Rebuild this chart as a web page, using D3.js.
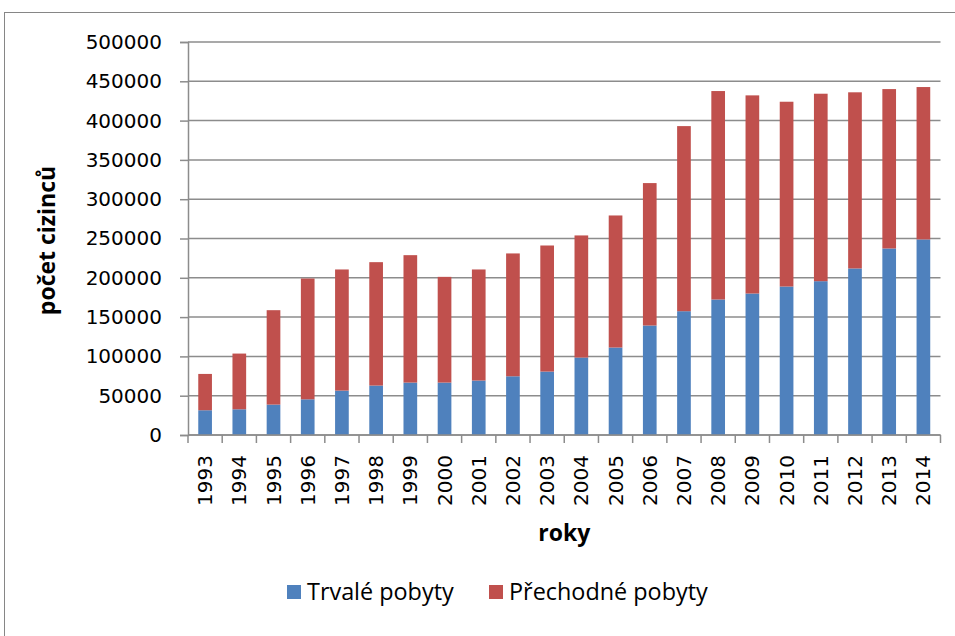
<!DOCTYPE html>
<html><head><meta charset="utf-8">
<script src="https://cdn.jsdelivr.net/npm/d3@7"></script>
<style>html,body{margin:0;padding:0;background:#fff;}</style>
</head><body>
<svg id="chart" width="955" height="636"></svg>
<script>
const years = ["1993","1994","1995","1996","1997","1998","1999","2000","2001","2002","2003","2004","2005","2006","2007","2008","2009","2010","2011","2012","2013","2014"];
const trvale = [31500,32700,38700,45400,56500,62900,66700,66700,69300,74700,80700,98500,111300,139300,157500,172400,180000,188900,195700,211900,237300,248800];
const celkem = [77700,103600,158800,199100,210600,219900,228800,201200,210600,231000,241100,253900,279300,320500,393000,437600,432100,424000,434200,436000,440100,442700];
const prechodne = celkem.map((t,i)=>t - trvale[i]);
const yTicks = [0,50000,100000,150000,200000,250000,300000,350000,400000,450000,500000];
const seriesNames = ["Trvalé pobyty","Přechodné pobyty"];
const colors = ["#4F81BD","#C0504D"];

const svg = d3.select("#chart");
// outer border
svg.append("rect").attr("x",4.5).attr("y",12.5).attr("width",1000).attr("height",700)
  .attr("fill","#fff").attr("stroke","#868686").attr("stroke-width",1);

const L=188, R=940.5, T=42, B=435;
const x = d3.scaleBand().domain(years).range([L,R]).paddingInner(0.6).paddingOuter(0.3);
const y = d3.scaleLinear().domain([0,500000]).range([B,T]);
const grid="#8c8c8c";

// gridlines
svg.append("g").selectAll("line").data(yTicks).join("line")
  .attr("x1",L).attr("x2",R).attr("y1",d=>y(d)).attr("y2",d=>y(d))
  .attr("stroke",grid).attr("stroke-width",1.5);

// y axis
const yAxis = d3.axisLeft(y).tickValues(yTicks).tickSize(8).tickPadding(18).tickFormat(d3.format("d"));
const gy = svg.append("g").attr("transform",`translate(${L},0)`).call(yAxis);
gy.select(".domain").attr("stroke",grid).attr("stroke-width",1.5);
gy.selectAll(".tick line").attr("stroke",grid).attr("stroke-width",1.5);
gy.selectAll("text").attr("font-family","DejaVu Sans").attr("font-size",20).attr("fill","#000");

// stacked bars
const stackData = years.map((yr,i)=>({year:yr, a:trvale[i], b:prechodne[i]}));
const stack = d3.stack().keys(["a","b"])(stackData);
svg.append("g").selectAll("g").data(stack).join("g").attr("fill",(d,i)=>colors[i])
  .selectAll("rect").data(d=>d).join("rect")
  .attr("x",d=>x(d.data.year)).attr("width",x.bandwidth())
  .attr("y",d=>y(d[1])).attr("height",d=>y(d[0])-y(d[1]));

// x axis
const step = (R-L)/years.length;
const gx = svg.append("g").attr("transform",`translate(0,${B})`);
gx.append("line").attr("x1",L).attr("x2",R).attr("stroke",grid).attr("stroke-width",1.5);
gx.selectAll("line.tk").data(d3.range(years.length+1)).join("line").attr("class","tk")
  .attr("x1",i=>L+i*step).attr("x2",i=>L+i*step).attr("y1",0).attr("y2",8)
  .attr("stroke",grid).attr("stroke-width",1.5);
gx.selectAll("text").data(years).join("text")
  .attr("transform",d=>`translate(${x(d)+x.bandwidth()/2+7},20) rotate(-90)`)
  .attr("text-anchor","end").attr("font-family","DejaVu Sans").attr("font-size",20).attr("fill","#000")
  .text(d=>d);

// axis titles
svg.append("text").attr("x",(L+R)/2).attr("y",541).attr("text-anchor","middle")
  .attr("font-family","Open Sans").attr("font-weight","bold").attr("font-size",23).text("roky");
svg.append("text").attr("transform",`translate(55,${(T+B)/2+2}) rotate(-90)`).attr("text-anchor","middle")
  .attr("font-family","Open Sans").attr("font-weight","bold").attr("font-size",23).text("počet cizinců");

// legend
const legX = [287,489];
const lg = svg.append("g");
seriesNames.forEach((n,i)=>{
  lg.append("rect").attr("x",legX[i]).attr("y",585).attr("width",14).attr("height",14).attr("fill",colors[i]);
  lg.append("text").attr("x",legX[i]+20).attr("y",600).attr("font-family","Open Sans").attr("font-size",23.4).attr("fill","#000").text(n);
});
</script>
</body></html>
